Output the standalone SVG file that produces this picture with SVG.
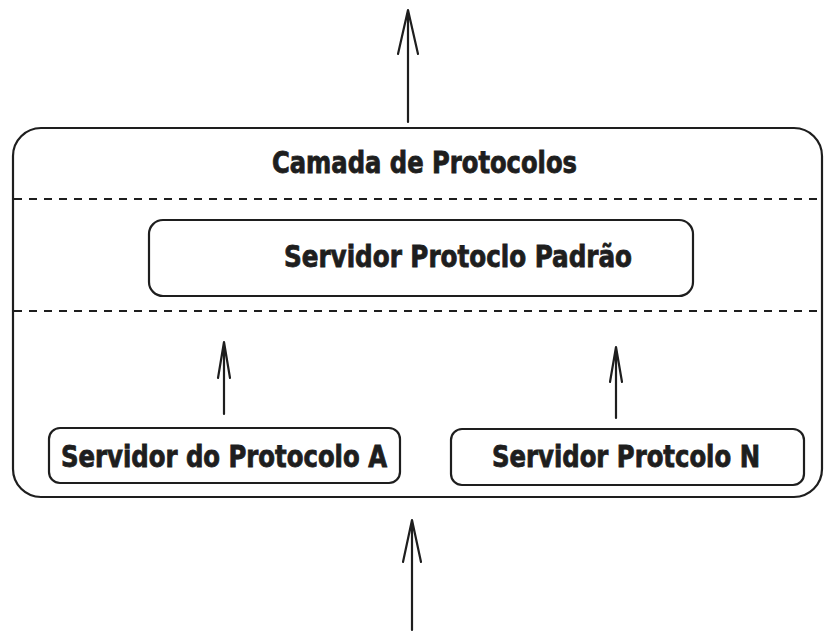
<svg xmlns="http://www.w3.org/2000/svg" width="836" height="640" viewBox="0 0 836 640">
<defs>
<style>
.box{fill:#fff;stroke:#1e1e1e;stroke-width:2.2}
.dash{stroke:#1e1e1e;stroke-width:2.2;stroke-dasharray:8 7;fill:none}
.arr{stroke:#1e1e1e;stroke-width:2.2;fill:none;stroke-linecap:round;stroke-linejoin:round}
.t{font-family:"DejaVu Sans Condensed","Liberation Sans",sans-serif;font-weight:bold;font-size:30px;fill:#1e1e1e;stroke:#1e1e1e;stroke-width:0.8}
</style>
</defs>
<rect width="836" height="640" fill="#fff"/>
<g id="camada">
<rect class="box" x="13" y="128" width="809" height="369" rx="28"/>
<text class="t" x="272" y="173" textLength="305" lengthAdjust="spacingAndGlyphs">Camada de Protocolos</text>
<line class="dash" x1="14" y1="199" x2="821" y2="199"/>
<line class="dash" x1="14" y1="311" x2="821" y2="311"/>
</g>
<g id="padrao">
<rect class="box" x="149" y="220" width="544" height="76" rx="14"/>
<text class="t" x="284" y="267" textLength="348" lengthAdjust="spacingAndGlyphs">Servidor Protoclo Padrão</text>
</g>
<g id="protA">
<rect class="box" x="49" y="428" width="351" height="55" rx="11"/>
<text class="t" x="61" y="467" textLength="326" lengthAdjust="spacingAndGlyphs">Servidor do Protocolo A</text>
</g>
<g id="protN">
<rect class="box" x="451" y="429" width="353" height="56" rx="11"/>
<text class="t" x="492" y="467" textLength="268" lengthAdjust="spacingAndGlyphs">Servidor Protcolo N</text>
</g>
<g id="connectors">
<path class="arr" d="M408 122 L408 10 M398 54 L408 10 L418 54"/>
<path class="arr" d="M412 630 L412 520 M403 562 L412 520 L421 562"/>
<path class="arr" d="M224 414 L224 342 M218 378 L224 342 L230 378"/>
<path class="arr" d="M616 418 L616 347 M610 382 L616 347 L622 382"/>
</g>
</svg>
